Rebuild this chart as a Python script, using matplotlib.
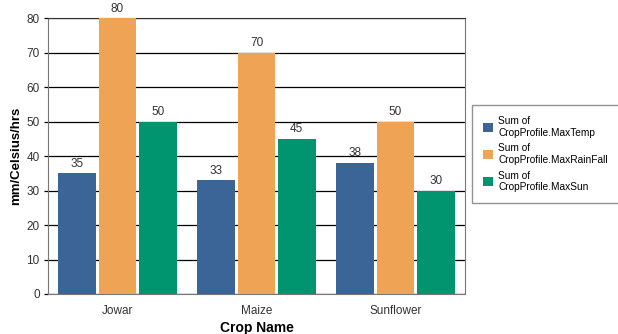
import numpy as np
import matplotlib
matplotlib.use('Agg')
import matplotlib.pyplot as plt

crops = ['Jowar', 'Maize', 'Sunflower']
max_temp = [35, 33, 38]
max_rain = [80, 70, 50]
max_sun = [50, 45, 30]
series_names = ['Sum of\nCropProfile.MaxTemp', 'Sum of\nCropProfile.MaxRainFall', 'Sum of\nCropProfile.MaxSun']
colors = ['#3B6597', '#EFA354', '#00956F']
yticks = [0, 10, 20, 30, 40, 50, 60, 70, 80]

plt.rcParams['font.family'] = ['Liberation Sans', 'DejaVu Sans']

fig = plt.figure(figsize=(6.18, 3.34), dpi=100)
ax = fig.add_axes([48/618, 1-294/334, (465-48)/618, (294-18)/334])

x = np.arange(len(crops))
step = 0.29
w = 0.272
for i, vals in enumerate([max_temp, max_rain, max_sun]):
    bars = ax.bar(x + (i-1)*step, vals, width=w, color=colors[i],
                  label=series_names[i], zorder=3)
    for b, v in zip(bars, vals):
        ax.text(b.get_x() + b.get_width()/2, v + 1, str(v), ha='center', va='bottom',
                fontsize=8.5, color='#333333', zorder=4)

ax.set_xlim(-0.5, 2.5)
ax.set_ylim(0, 80)
ax.set_yticks(yticks)
ax.yaxis.grid(True, color='black', linewidth=0.9, zorder=1)
ax.set_xticks(x)
ax.set_xticklabels(crops, fontsize=8.5, color='#333333')
ax.tick_params(axis='x', length=0, pad=8)
ax.tick_params(axis='y', length=3, width=0.9, labelsize=8.5, labelcolor='#333333', pad=3)
for s in ['left', 'bottom', 'right']:
    ax.spines[s].set_color('#777777')
ax.spines['top'].set_color('#333333')
ax.set_ylabel('mm/Celsius/hrs', fontsize=9.5, fontweight='bold')
ax.yaxis.set_label_coords(-0.062, 0.5)
ax.set_xlabel('Crop Name', fontsize=10, fontweight='bold', labelpad=3)

leg = fig.legend(loc='upper left', bbox_to_anchor=(472/618, 1-105/334), fontsize=7.3,
                 frameon=True, fancybox=False, edgecolor='#777777', handlelength=1.0,
                 handleheight=1.0, labelspacing=0.55, borderpad=1.1, handletextpad=0.5,
                 borderaxespad=0)
leg.get_frame().set_linewidth(1.0)

fig.savefig('out.png', dpi=100)
